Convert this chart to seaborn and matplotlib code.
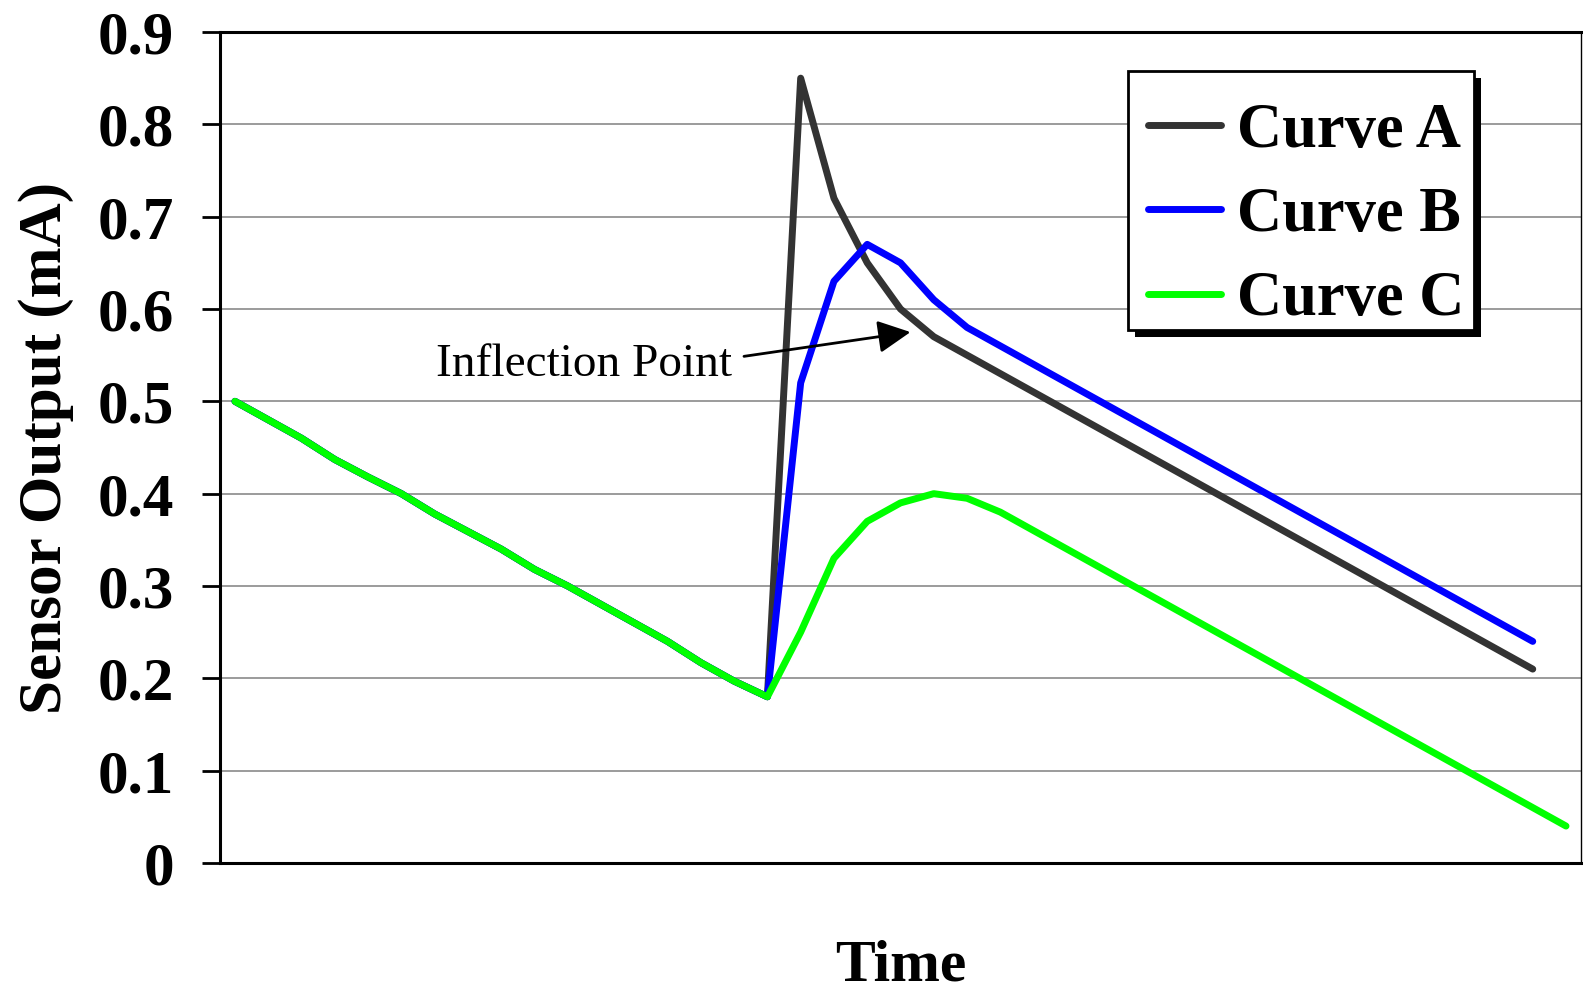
import numpy as np
import pandas as pd
import matplotlib
matplotlib.use("Agg")
import matplotlib.pyplot as plt
from matplotlib.patches import Rectangle
from matplotlib.lines import Line2D
import seaborn as sns

# valores (misma malla de tiempo para las 3 curvas)
tramo_comun = [0.50, 0.48, 0.46, 0.437, 0.418, 0.40, 0.378, 0.359, 0.34,
               0.318, 0.30, 0.28, 0.26, 0.24, 0.217, 0.197, 0.18]
curva_a = [0.85, 0.72, 0.65, 0.60, 0.57, 0.55, 0.53, 0.51, 0.49, 0.47, 0.45,
           0.43, 0.41, 0.39, 0.37, 0.35, 0.33, 0.31, 0.29, 0.27, 0.25, 0.23, 0.21]
curva_b = [0.52, 0.63, 0.67, 0.65, 0.61, 0.58, 0.56, 0.54, 0.52, 0.50, 0.48,
           0.46, 0.44, 0.42, 0.40, 0.38, 0.36, 0.34, 0.32, 0.30, 0.28, 0.26, 0.24]
curva_c = [0.25, 0.33, 0.37, 0.39, 0.40, 0.395, 0.38, 0.36, 0.34, 0.32, 0.30,
           0.28, 0.26, 0.24, 0.22, 0.20, 0.18, 0.16, 0.14, 0.12, 0.10, 0.08,
           0.06, 0.04]
nombres = ["Curve A", "Curve B", "Curve C"]
colores = ["#333333", "#0000ff", "#00ff00"]

filas = []
for nombre, resto in zip(nombres, [curva_a, curva_b, curva_c]):
    valores = tramo_comun + resto
    for t, v in enumerate(valores):
        filas.append({"t": t, "valor": v, "curva": nombre})
df = pd.DataFrame(filas)

sns.set_style("white")
plt.rcParams["font.family"] = ["Liberation Serif", "DejaVu Serif"]
plt.rcParams["text.color"] = "black"
plt.rcParams["axes.labelcolor"] = "black"
plt.rcParams["xtick.color"] = "black"
plt.rcParams["ytick.color"] = "black"

fig, ax = plt.subplots(figsize=(15.83, 9.98), dpi=100)
fig.subplots_adjust(left=220/1583, right=1581/1583, top=1-32/998, bottom=1-863/998)

ax.set_yticks(np.arange(0, 0.91, 0.1))
ax.grid(axis="y", color="#808080", linewidth=1.1)
ax.set_axisbelow(True)

sns.lineplot(data=df, x="t", y="valor", hue="curva", hue_order=nombres,
             palette=dict(zip(nombres, colores)), linewidth=5,
             solid_capstyle="round", solid_joinstyle="round", ax=ax, legend=False)

ax.set_xlim(-0.45, 40.45)
ax.set_ylim(0, 0.9)
ax.set_xticks([])
ax.set_yticklabels(["0", "0.1", "0.2", "0.3", "0.4", "0.5", "0.6", "0.7", "0.8", "0.9"])
ax.tick_params(axis="y", length=13, width=2, pad=20, labelsize=44, color="black",
               labelcolor="black", left=True)
for lab in ax.get_yticklabels():
    lab.set_fontweight("bold")

for lado in ["left", "bottom", "top"]:
    ax.spines[lado].set_linewidth(2.2)
    ax.spines[lado].set_color("black")
ax.spines["right"].set_linewidth(1)
ax.spines["right"].set_color("black")

ax.set_xlabel("Time", fontsize=43, fontweight="bold", labelpad=55)
ax.set_ylabel("Sensor Output (mA)", fontsize=44, fontweight="bold", labelpad=17)

# caja de la leyenda con sombra negra (dibujada aparte)
x0, x1 = 0.667, 0.9215
y0, y1 = 0.6414, 0.953
sombra = Rectangle((x0 + 0.0051, y0 - 0.0084), x1 - x0, y1 - y0,
                   transform=ax.transAxes, facecolor="black", edgecolor="none",
                   zorder=4.8, clip_on=False)
caja = Rectangle((x0, y0), x1 - x0, y1 - y0, transform=ax.transAxes,
                 facecolor="white", edgecolor="black", linewidth=2,
                 zorder=4.9, clip_on=False)
ax.add_patch(sombra)
ax.add_patch(caja)

handles = [Line2D([0], [0], color=c, lw=5, solid_capstyle="round") for c in colores]
leg = ax.legend(handles, nombres, loc="upper right", bbox_to_anchor=(0.9303, 0.941),
                frameon=False,
                prop={"family": "Liberation Serif", "weight": "bold", "size": 45},
                handlelength=1.18, handletextpad=0.25, labelspacing=0.42,
                borderpad=0.35, borderaxespad=0)
leg.set_zorder(5)

ax.annotate("Inflection Point", xy=(20.3, 0.575), xytext=(14.95, 0.54),
            ha="right", va="center", fontsize=34, color="black",
            arrowprops=dict(arrowstyle="-|>", color="black", lw=2,
                            mutation_scale=50, shrinkA=6, shrinkB=0,
                            relpos=(1, 0.65)))

plt.savefig("out.png", dpi=100)
